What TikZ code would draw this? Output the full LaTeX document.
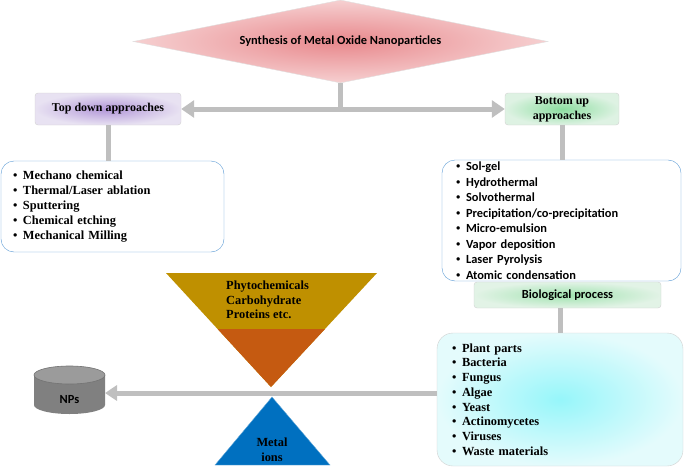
\documentclass[tikz,border=0pt]{standalone}
\usepackage{fontspec}
\setmainfont{Liberation Serif}
\newfontfamily\calfont{Carlito}
\usetikzlibrary{shapes.geometric,arrows.meta,positioning}

\definecolor{linegray}{RGB}{191,191,191}
\definecolor{listblue}{RGB}{91,155,213}
\definecolor{gold}{RGB}{191,144,0}
\definecolor{rust}{RGB}{197,90,17}
\definecolor{ionblue}{RGB}{0,112,192}
\definecolor{cylbody}{RGB}{128,128,128}
\definecolor{cyltop}{RGB}{155,155,155}

\newcommand{\bpt}{\makebox[10pt][l]{\rmfamily\textbullet}}

\tikzset{
  box/.style={rectangle, rounded corners=3pt, draw=black!18, inner sep=0pt,
    align=center, font=\bfseries\fontsize{12}{15}\selectfont},
  listbox/.style={rectangle, rounded corners=13pt, draw=listblue, fill=white,
    align=left, inner ysep=0pt},
  link/.style={draw=linegray, line width=5pt},
  arrowlink/.style={link, -{Triangle[length=13pt,width=17pt]}}
}

\begin{document}
\begin{tikzpicture}[x=1pt,y=1pt]
    \useasboundingbox (0,0) rectangle (685,467);

    % Top of the chart
    \node[diamond, aspect=5, inner sep=0pt, minimum width=415pt, minimum height=83pt,
      shading=radial, inner color={rgb,255:red,232;green,136;blue,140},
      outer color={rgb,255:red,246;green,208;blue,209}, draw=black!12,
      font=\calfont\bfseries\fontsize{12.4}{14}\selectfont]
      (title) at (340.5,425.5) {Synthesis of Metal Oxide Nanoparticles};

    \node[box, minimum width=146pt, minimum height=32pt, shading=radial,
      inner color={rgb,255:red,178;green,150;blue,216},
      outer color={rgb,255:red,232;green,226;blue,242}]
      (td) at (108,358) {Top down approaches};
    \node[box, minimum width=114pt, minimum height=32pt, shading=radial,
      inner color={rgb,255:red,140;green,222;blue,160},
      outer color={rgb,255:red,222;green,242;blue,227}]
      (bu) at (562,358) {Bottom up\\approaches};

    % The two lists of methods
    \node[listbox, minimum width=223pt, minimum height=91pt, inner xsep=12pt,
      text width=199pt, font=\bfseries\fontsize{12.4}{15}\selectfont]
      (tdlist) at (112.5,260.5)
      {\bpt Mechano chemical\\ \bpt Thermal/Laser ablation\\ \bpt Sputtering\\
       \bpt Chemical etching\\ \bpt Mechanical Milling};
    \node[listbox, minimum width=239pt, minimum height=121pt, inner xsep=14pt,
      text width=211pt, font=\calfont\bfseries\fontsize{12.4}{15.5}\selectfont]
      (bulist) at (561.5,246.5)
      {\bpt Sol-gel\\ \bpt Hydrothermal\\ \bpt Solvothermal\\
       \bpt Precipitation/co-precipitation\\ \bpt Micro-emulsion\\
       \bpt Vapor deposition\\ \bpt Laser Pyrolysis\\ \bpt Atomic condensation};

    \node[box, minimum width=187pt, minimum height=26pt, shading=radial,
      inner color={rgb,255:red,160;green,226;blue,175},
      outer color={rgb,255:red,226;green,243;blue,230},
      font=\calfont\bfseries\fontsize{12.4}{14}\selectfont]
      (bio) at (567.5,172) {Biological process};
    \node[listbox, rounded corners=16pt, minimum width=246pt, minimum height=133pt,
      inner xsep=15pt, text width=216pt, draw=black!18, shading=radial,
      inner color={rgb,255:red,150;green,246;blue,250},
      outer color={rgb,255:red,228;green,251;blue,252},
      font=\bfseries\fontsize{12.4}{14.7}\selectfont]
      (biolist) at (560,67.5)
      {\bpt Plant parts\\ \bpt Bacteria\\ \bpt Fungus\\ \bpt Algae\\
       \bpt Yeast\\ \bpt Actinomycetes\\ \bpt Viruses\\ \bpt Waste materials};

    % Connectors
    \draw[link] (title.south) -- (title.south |- td.east);
    \draw[link, {Triangle[length=13pt,width=17pt]}-{Triangle[length=13pt,width=17pt]}]
      (td.east) -- (bu.west);
    \draw[link] (td.south) -- (td.south |- tdlist.north);
    \draw[link] (bu.south) -- (bu.south |- bulist.north);
    \draw[link] (biolist.north) -- (biolist.north |- bio.south);

    % Funnel of biomolecules
    \coordinate (FL) at (166,194);
    \coordinate (FR) at (377,194);
    \coordinate (FT) at (271,80);
    \fill[gold] (FL) -- (FR) -- (FT) -- cycle;
    \fill[rust] (217.6,138) -- (325,138) -- (FT) -- cycle;
    \node[anchor=west, align=left, inner sep=0pt,
      font=\bfseries\fontsize{12.4}{14.5}\selectfont]
      (bioms) at (226,167) {Phytochemicals\\Carbohydrate\\Proteins etc.};

    % Metal ions
    \fill[ionblue, draw=ionblue!60] (272,70) -- (330,2) -- (215,2) -- cycle;
    \node[align=center, inner sep=0pt,
      font=\bfseries\fontsize{12.4}{15}\selectfont]
      (ions) at (272,17.5) {Metal\\ions};

    % NPs container
    \fill[cylbody] (34,92) -- (34,62) arc[start angle=180,end angle=360,x radius=35.5,y radius=9]
      -- (105,92) -- cycle;
    \draw[fill=cyltop, draw=black!55, line width=0.6pt] (69.5,92) ellipse[x radius=35.5, y radius=9];
    \node[font=\calfont\bfseries\fontsize{12.4}{14}\selectfont] (nps) at (69.5,67) {NPs};
    \coordinate (npsR) at (105,74);
    \draw[link, -{Triangle[length=12pt,width=15pt]}] (biolist.west |- npsR) -- (npsR);

\end{tikzpicture}
\end{document}
